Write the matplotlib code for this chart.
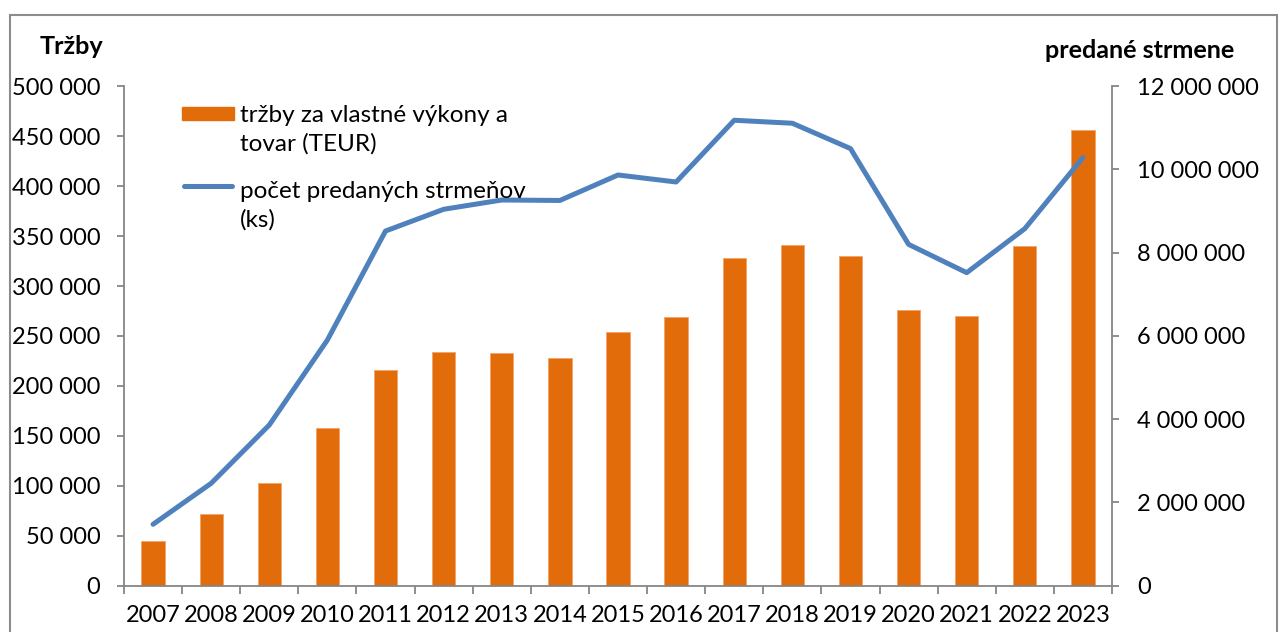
import matplotlib.pyplot as plt
from matplotlib.patches import Rectangle
from matplotlib.lines import Line2D
from matplotlib.ticker import FuncFormatter, FixedLocator

# Data
years = ["2007", "2008", "2009", "2010", "2011", "2012", "2013", "2014", "2015",
         "2016", "2017", "2018", "2019", "2020", "2021", "2022", "2023"]
trzby = [44400, 71700, 102800, 157500, 215900, 233900, 232900, 228000, 254000,
         269200, 328400, 340700, 329700, 275600, 270300, 340000, 456000]
strmene = [1475000, 2460000, 3861000, 5903000, 8521000, 9043000, 9266000, 9255000, 9867000,
           9699000, 11182000, 11110000, 10502000, 8200000, 7520000, 8578000, 10285000]

left_ticks = [0, 50000, 100000, 150000, 200000, 250000, 300000, 350000, 400000, 450000, 500000]
right_ticks = [0, 2000000, 4000000, 6000000, 8000000, 10000000, 12000000]

bar_color = "#E36C0A"
line_color = "#4F81BD"
axis_grey = "#868686"

plt.rcParams["font.family"] = ["Lato", "DejaVu Sans"]
FS = 17.5
TICK_FS = 17

W, H = 1279, 632
fig = plt.figure(figsize=(W / 100, H / 100), dpi=100)


def fx(px):
    return px / W


def fy(py):
    return 1 - py / H


ax = fig.add_axes([fx(124), fy(585.7), fx(1112) - fx(124), fy(86.2) - fy(585.7)])
ax2 = ax.twinx()

x = list(range(len(years)))

# Bars (left axis)
ax.bar(x, trzby, width=0.4, color=bar_color, edgecolor="#F0A46A", linewidth=0.6, zorder=2)

# Line (right axis)
ax2.plot(x, strmene, color=line_color, linewidth=3.6,
         solid_capstyle="round", solid_joinstyle="round", zorder=3)

ax.set_xlim(-0.5, len(years) - 0.5)
ax.set_ylim(0, 500000)
ax2.set_ylim(0, 12000000)

fmt = FuncFormatter(lambda v, p: f"{int(v):,}".replace(",", " "))
ax.set_yticks(left_ticks)
ax2.set_yticks(right_ticks)
ax.yaxis.set_major_formatter(fmt)
ax2.yaxis.set_major_formatter(fmt)

# category labels at centres, tick marks at the boundaries
ax.set_xticks(x)
ax.set_xticklabels(years)
ax.xaxis.set_minor_locator(FixedLocator([i - 0.5 for i in range(len(years) + 1)]))
ax.tick_params(axis="x", which="major", length=0, pad=14, labelsize=TICK_FS)
ax.tick_params(axis="x", which="minor", length=6, width=1.3, color=axis_grey, direction="out")
ax.tick_params(axis="y", length=5, width=1.3, color=axis_grey, pad=12, labelsize=TICK_FS)
ax2.tick_params(axis="y", length=5, width=1.3, color=axis_grey, pad=13, labelsize=TICK_FS)

for s in ["top", "right"]:
    ax.spines[s].set_visible(False)
for s in ["top", "left", "bottom"]:
    ax2.spines[s].set_visible(False)
for sp in [ax.spines["left"], ax.spines["bottom"], ax2.spines["right"]]:
    sp.set_color(axis_grey)
    sp.set_linewidth(1.3)

# axis titles
fig.text(fx(72), fy(47), "Tržby", fontsize=18.2, fontweight="bold", ha="center", va="center")
fig.text(fx(1140), fy(50), "predané strmene", fontsize=18.2, fontweight="bold",
         ha="center", va="center")

# legend drawn by hand so the key sits on the first text line
fig.patches.append(Rectangle((fx(182), fy(120)), fx(234) - fx(182), fy(107) - fy(120),
                             transform=fig.transFigure, color=bar_color))
fig.lines.append(Line2D([fx(184), fx(232)], [fy(186), fy(186)], transform=fig.transFigure,
                        color=line_color, linewidth=3.6, solid_capstyle="round"))
fig.text(fx(240), fy(129.5), "tržby za vlastné výkony a\ntovar (TEUR)", fontsize=FS,
         ha="left", va="center", linespacing=1.4)
fig.text(fx(240), fy(206), "počet predaných strmeňov\n(ks)", fontsize=FS,
         ha="left", va="center", linespacing=1.4)

# outer frame
fig.patches.append(Rectangle((fx(10), -0.1), fx(1277) - fx(10), fy(15) + 0.1,
                             transform=fig.transFigure, fill=False,
                             edgecolor="#8C8C8C", linewidth=1.5))

fig.savefig("out.png", dpi=100)
